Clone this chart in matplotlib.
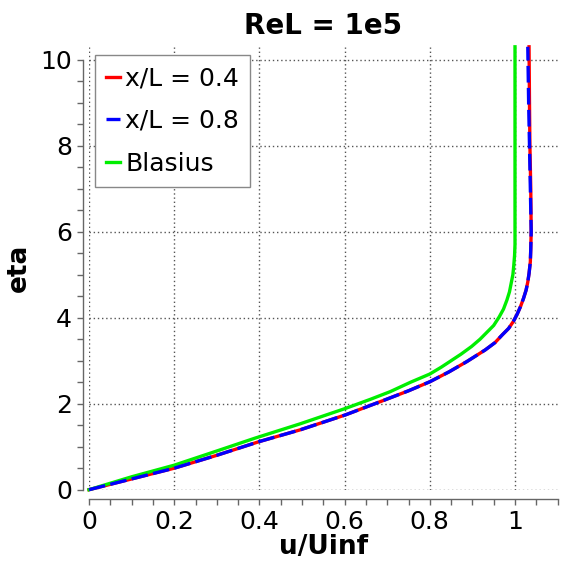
import matplotlib
matplotlib.use("Agg")
import matplotlib.pyplot as plt
from matplotlib.ticker import FixedLocator, MultipleLocator

# velocity profiles (eta, u/Uinf)
eta_04 = [0, 0.25, 0.50, 0.80, 1.12, 1.39, 1.74, 2.09, 2.30, 2.51, 2.74, 2.98,
          3.25, 3.42, 3.60, 3.75, 3.91, 4.08, 4.26, 4.45, 4.64, 4.83, 5.03,
          5.30, 5.60, 6.0, 7.0, 8.0, 9.0, 10.3]
u_04 = [0, 0.10, 0.20, 0.30, 0.40, 0.495, 0.602, 0.695, 0.750, 0.800, 0.845,
        0.887, 0.930, 0.953, 0.970, 0.985, 0.996, 1.005, 1.013, 1.020, 1.026,
        1.030, 1.033, 1.036, 1.037, 1.038, 1.037, 1.035, 1.034, 1.033]

eta_08 = [0, 0.25, 0.50, 0.80, 1.12, 1.39, 1.74, 2.09, 2.30, 2.51, 2.74, 2.98,
          3.25, 3.42, 3.60, 3.75, 3.91, 4.08, 4.26, 4.45, 4.64, 4.83, 5.03,
          5.30, 5.60, 6.0, 7.0, 8.0, 9.0, 10.3]
u_08 = [0, 0.10, 0.20, 0.30, 0.40, 0.495, 0.602, 0.695, 0.750, 0.800, 0.845,
        0.887, 0.930, 0.953, 0.970, 0.985, 0.996, 1.005, 1.013, 1.020, 1.026,
        1.030, 1.033, 1.036, 1.037, 1.038, 1.036, 1.034, 1.032, 1.030]

eta_bl = [0, 0.30, 0.57, 0.90, 1.20, 1.53, 1.89, 2.10, 2.28, 2.50, 2.69, 2.85,
          2.98, 3.15, 3.33, 3.50, 3.64, 3.82, 4.02, 4.20, 4.41, 4.60, 4.80,
          5.00, 5.20, 5.45, 5.70, 7.0, 10.3]
u_bl = [0, 0.10, 0.20, 0.30, 0.39, 0.495, 0.602, 0.66, 0.707, 0.755, 0.80,
        0.827, 0.847, 0.873, 0.898, 0.918, 0.932, 0.950, 0.963, 0.973, 0.981,
        0.987, 0.991, 0.995, 0.997, 0.999, 1.0, 1.0, 1.0]

labels = ["x/L = 0.4", "x/L = 0.8", "Blasius"]
xticks = [0, 0.2, 0.4, 0.6, 0.8, 1.0]
xticklabels = ["0", "0.2", "0.4", "0.6", "0.8", "1"]
yticks = [0, 2, 4, 6, 8, 10]

fig = plt.figure(figsize=(5.66, 5.71), dpi=100)
ax = fig.add_axes([89 / 566, 81.3 / 571, 468.6 / 566, 442.9 / 571])

l1, = ax.plot(u_04, eta_04, color="#ff0000", lw=2.4, clip_on=False, zorder=3)
l2, = ax.plot(u_08, eta_08, color="#0000ff", lw=2.4, ls=(0, (5, 1.6)),
              clip_on=False, zorder=4)
l3, = ax.plot(u_bl, eta_bl, color="#00ee00", lw=2.4, clip_on=False, zorder=3)

ax.set_xlim(0, 1.1)
ax.set_ylim(0, 10.3)

ax.xaxis.set_major_locator(FixedLocator(xticks))
ax.set_xticklabels(xticklabels)
ax.xaxis.set_minor_locator(MultipleLocator(0.05))
ax.yaxis.set_major_locator(FixedLocator(yticks))
ax.yaxis.set_minor_locator(FixedLocator([i * 0.5 for i in range(21)]))

for s in ["top", "right"]:
    ax.spines[s].set_visible(False)
ax.spines["left"].set_position(("outward", 4.3))
ax.spines["bottom"].set_position(("outward", 6.8))
ax.spines["left"].set_bounds(0, 10)
ax.spines["bottom"].set_bounds(0, 1.1)
for s in ["left", "bottom"]:
    ax.spines[s].set_color("#666666")
    ax.spines[s].set_linewidth(1)

ax.tick_params(which="both", direction="out", length=4, width=1,
               color="#666666", labelsize=18, pad=4)

ax.grid(True, which="major", ls=(0, (1, 2)), color="#555555", lw=1)
ax.set_axisbelow(True)

ax.set_xlabel("u/Uinf", fontsize=19, fontweight="bold", labelpad=0)
ax.set_ylabel("eta", fontsize=19, fontweight="bold", labelpad=6)
ax.set_title("ReL = 1e5", fontsize=20, fontweight="bold", pad=9)

leg = ax.legend([l1, l2, l3], labels, loc="upper left",
                bbox_to_anchor=(95 / 566, 1 - 55 / 571),
                bbox_transform=fig.transFigure, borderaxespad=0,
                fontsize=18, handlelength=0.55, handletextpad=0.2,
                labelspacing=0.75, borderpad=0.45, fancybox=False,
                framealpha=1, edgecolor="#888888")
leg.get_frame().set_linewidth(1)

fig.savefig("out.png", dpi=100)
